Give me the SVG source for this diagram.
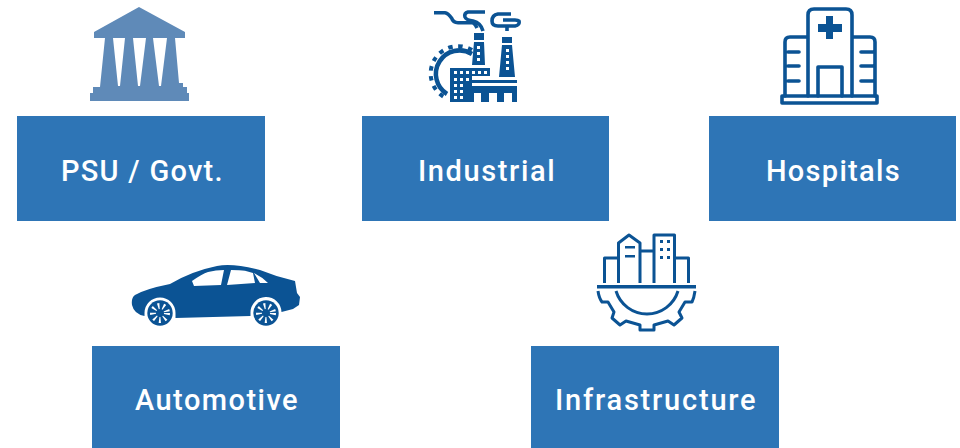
<svg xmlns="http://www.w3.org/2000/svg" width="960" height="448" viewBox="0 0 960 448">
<style>
.box{fill:#2e75b6}
.lbl{font-family:"Roboto","Liberation Sans",sans-serif;font-size:29px;fill:#fff;font-weight:500;letter-spacing:1.4px}
.ic{fill:#0b5394}
.ln{fill:none;stroke:#0b5394;stroke-width:3.6;stroke-linejoin:round;stroke-linecap:round}
.sm{fill:none;stroke:#0b5394;stroke-width:3.6;stroke-linecap:butt;stroke-linejoin:round}
.ln2{fill:none;stroke:#0b5394;stroke-width:3;stroke-linejoin:round}
.w{fill:#fff}
.sp{fill:none;stroke:#fff;stroke-width:6;stroke-dasharray:1.7 3.4}
</style>
<rect width="960" height="448" fill="#fff"/>
<g id="node-psu">
<path fill="#5f8ab8" d="M139 7L185 32V38H175L179 83H183V87H187V93H189V101H90V93H93V87H100L105 38H94V32Z"/>
<path class="w" d="M113 38H125L120 86H118ZM133 38H146L140 86H138ZM153 38H167L161 86H159Z"/>
<rect class="box" x="17" y="116" width="248" height="105"/>
<text class="lbl" x="61" y="181" textLength="163">PSU / Govt.</text>
</g>
<g id="node-industrial">
<path class="sm" d="M434 12.700H445Q448 13 451.700 18.300Q453 22.700 458 22.700H472Q475 23 477 28"/>
<path class="sm" d="M485 12H468Q464 13 465 17Q466 20 473 21Q481 23 483 31"/>
<path class="sm" d="M511 14H498Q492 15 492 21Q492 26 498 26H515Q520 25 519 21Q518 20 515 20H503M507 26V31"/>
<path d="M472 54A23 23 0 0 0 447 94" fill="none" stroke="#0b5394" stroke-width="4.5"/>
<path d="M472 50A26 26 0 0 0 444 97" fill="none" stroke="#0b5394" stroke-width="4" stroke-dasharray="4.5 5.500"/>
<path class="ic" d="M474 33H484V40H474ZM474 42H484L485 65H472ZM502 37H512V43H502ZM502 45H512L515 77H499ZM450 68H490V76H472V102H450ZM472 80L517 80V83H472ZM468 86H517V102H468Z"/>
<path class="w" d="M477 46h3v3h-3zM477 52h3v3h-3zM477 58h3v3h-3zM506 49h3v3h-3zM506 55h3v3h-3zM506 61h3v3h-3zM506 67h3v3h-3zM454 71h3v3h-3zM460 71h3v3h-3zM466 71h3v3h-3zM472 71h3v3h-3zM478 71h3v3h-3zM484 71h3v3h-3zM454 78h3v3h-3zM460 78h3v3h-3zM466 78h3v3h-3zM454 84h3v3h-3zM460 84h3v3h-3zM454 90h3v3h-3zM460 90h3v3h-3zM454 96h3v3h-3zM460 96h3v3h-3zM474 93h7v9h-7zM489 93h8v9h-8zM504 93h8v9h-8z"/>
<rect class="box" x="362" y="116" width="247" height="105"/>
<text class="lbl" x="418" y="181" textLength="138">Industrial</text>
</g>
<g id="node-hospitals">
<path class="ln" d="M808 96V15Q808 9 814 9H846Q852 9 852 15V96M808 37H790Q785 37 785 42V96M852 37H870Q875 37 875 42V96M818 96V67H842V96M788 52H799M788 66H799M788 81H799M861 52H873M861 66H873M861 81H873"/>
<rect class="ln" x="782" y="96" width="95" height="7"/>
<path class="ic" d="M826 16H833V24H842V32H833V39H826V32H818V24H826Z"/>
<rect class="box" x="709" y="116" width="247" height="105"/>
<text class="lbl" x="766" y="181" textLength="135">Hospitals</text>
</g>
<g id="node-automotive">
<path class="ic" d="M132 305Q131 298 135 295Q145 289 170 284Q192 271 217 266Q233 263 260 270Q277 277 295 281L297 293L300 297L299 305L293 309L281.500 312A15.500 15.500 0 0 0 250.500 313V316L175.500 318V313A15.500 15.500 0 0 0 144.500 313V316Q134 314 132 305Z"/>
<circle class="ic" cx="160" cy="313" r="12.700"/><circle class="ic" cx="266" cy="313" r="12.700"/>
<circle class="sp" cx="160" cy="313" r="7"/>
<circle class="sp" cx="266" cy="313" r="7"/>
<circle class="ic" cx="160" cy="313" r="2.500"/><circle class="ic" cx="266" cy="313" r="2.500"/>
<path class="w" d="M192 281Q202 274 208 272Q216 270 224 270L221 285L194 286ZM231 270Q240 270 245 270.700L253 273L255 283L227 285ZM254 273Q262 277 268 283H260Z"/>
<rect class="box" x="92" y="346" width="248" height="102"/>
<text class="lbl" x="135" y="410" textLength="164">Automotive</text>
</g>
<g id="node-infrastructure">
<path class="ln2" d="M604.500 283V258H618M618.500 283V243L629 235L640 243V283M640 251H654M654 283V235H674.500V283M674.500 258H688.500V283"/>
<path class="ic" d="M625 246h10v2.500h-10zM625 255h10v2.500h-10zM660 240h3v3h-3zM667 240h3v3h-3zM660 248h3v3h-3zM667 248h3v3h-3zM660 256h3v3h-3zM667 256h3v3h-3z"/>
<rect class="ic" x="597" y="285" width="99" height="3.500"/>
<path class="ln2" d="M598 291Q599 298 602 302L608 302L614 312L612 318L620 325L626 321L640 325V330H654V325L668 321L674 325L682 318L679 312L685 302L692 302Q694 298 695 291M616 291A32.400 32.400 0 0 0 678 291"/>
<rect class="box" x="531" y="346" width="248" height="102"/>
<text class="lbl" x="555" y="410" textLength="202">Infrastructure</text>
</g>
</svg>
